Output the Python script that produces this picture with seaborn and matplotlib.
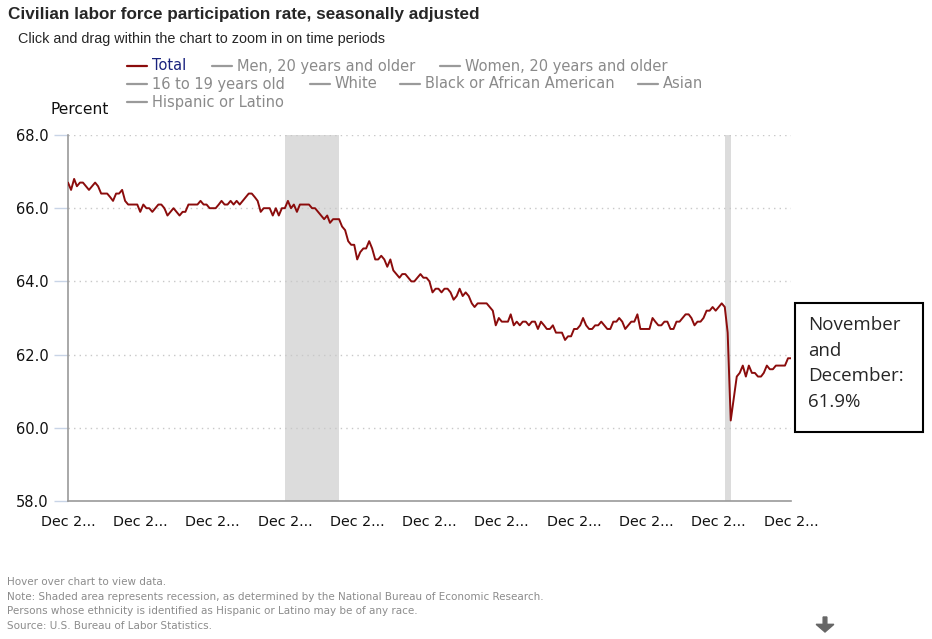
import numpy as np
import pandas as pd
import matplotlib
matplotlib.use("Agg")
import matplotlib.pyplot as plt
import seaborn as sns
from matplotlib.lines import Line2D
from matplotlib.patches import Rectangle, FancyArrow

# ── data: civilian labor force participation rate (%), monthly ─────────────
start_month = "2001-12-01"
rate_2001_dec = [66.7]
rate_2002 = [66.5, 66.8, 66.6, 66.7, 66.7, 66.6, 66.5, 66.6, 66.7, 66.6, 66.4, 66.4]
rate_2003 = [66.4, 66.3, 66.2, 66.4, 66.4, 66.5, 66.2, 66.1, 66.1, 66.1, 66.1, 65.9]
rate_2004 = [66.1, 66.0, 66.0, 65.9, 66.0, 66.1, 66.1, 66.0, 65.8, 65.9, 66.0, 65.9]
rate_2005 = [65.8, 65.9, 65.9, 66.1, 66.1, 66.1, 66.1, 66.2, 66.1, 66.1, 66.0, 66.0]
rate_2006 = [66.0, 66.1, 66.2, 66.1, 66.1, 66.2, 66.1, 66.2, 66.1, 66.2, 66.3, 66.4]
rate_2007 = [66.4, 66.3, 66.2, 65.9, 66.0, 66.0, 66.0, 65.8, 66.0, 65.8, 66.0, 66.0]
rate_2008 = [66.2, 66.0, 66.1, 65.9, 66.1, 66.1, 66.1, 66.1, 66.0, 66.0, 65.9, 65.8]
rate_2009 = [65.7, 65.8, 65.6, 65.7, 65.7, 65.7, 65.5, 65.4, 65.1, 65.0, 65.0, 64.6]
rate_2010 = [64.8, 64.9, 64.9, 65.1, 64.9, 64.6, 64.6, 64.7, 64.6, 64.4, 64.6, 64.3]
rate_2011 = [64.2, 64.1, 64.2, 64.2, 64.1, 64.0, 64.0, 64.1, 64.2, 64.1, 64.1, 64.0]
rate_2012 = [63.7, 63.8, 63.8, 63.7, 63.8, 63.8, 63.7, 63.5, 63.6, 63.8, 63.6, 63.7]
rate_2013 = [63.6, 63.4, 63.3, 63.4, 63.4, 63.4, 63.4, 63.3, 63.2, 62.8, 63.0, 62.9]
rate_2014 = [62.9, 62.9, 63.1, 62.8, 62.9, 62.8, 62.9, 62.9, 62.8, 62.9, 62.9, 62.7]
rate_2015 = [62.9, 62.8, 62.7, 62.7, 62.8, 62.6, 62.6, 62.6, 62.4, 62.5, 62.5, 62.7]
rate_2016 = [62.7, 62.8, 63.0, 62.8, 62.7, 62.7, 62.8, 62.8, 62.9, 62.8, 62.7, 62.7]
rate_2017 = [62.9, 62.9, 63.0, 62.9, 62.7, 62.8, 62.9, 62.9, 63.1, 62.7, 62.7, 62.7]
rate_2018 = [62.7, 63.0, 62.9, 62.8, 62.8, 62.9, 62.9, 62.7, 62.7, 62.9, 62.9, 63.0]
rate_2019 = [63.1, 63.1, 63.0, 62.8, 62.9, 62.9, 63.0, 63.2, 63.2, 63.3, 63.2, 63.3]
rate_2020 = [63.4, 63.3, 62.6, 60.2, 60.8, 61.4, 61.5, 61.7, 61.4, 61.7, 61.5, 61.5]
rate_2021 = [61.4, 61.4, 61.5, 61.7, 61.6, 61.6, 61.7, 61.7, 61.7, 61.7, 61.9, 61.9]

recessions = [("2007-12-01", "2009-06-01"), ("2020-02-01", "2020-04-01")]
x_ticks = ["2001-12-01", "2003-12-01", "2005-12-01", "2007-12-01", "2009-12-01",
           "2011-12-01", "2013-12-01", "2015-12-01", "2017-12-01", "2019-12-01",
           "2021-12-01"]
x_tick_label = "Dec 2..."
y_ticks = [58, 60, 62, 64, 66, 68]

legend_row1 = ["Total", "Men, 20 years and older", "Women, 20 years and older"]
legend_row2 = ["16 to 19 years old", "White", "Black or African American", "Asian"]
legend_row3 = ["Hispanic or Latino"]

footnotes = [
    "Hover over chart to view data.",
    "Note: Shaded area represents recession, as determined by the National Bureau of Economic Research.",
    "Persons whose ethnicity is identified as Hispanic or Latino may be of any race.",
    "Source: U.S. Bureau of Labor Statistics.",
]

values = (rate_2001_dec + rate_2002 + rate_2003 + rate_2004 + rate_2005 + rate_2006
          + rate_2007 + rate_2008 + rate_2009 + rate_2010 + rate_2011 + rate_2012
          + rate_2013 + rate_2014 + rate_2015 + rate_2016 + rate_2017 + rate_2018
          + rate_2019 + rate_2020 + rate_2021)
df = pd.DataFrame({
    "month": pd.date_range(start_month, periods=len(values), freq="MS"),
    "rate": values,
})

LINE_RED = "#8b0c0c"
GREY_TXT = "#8a8a8a"
W, H = 932, 639

sns.set_style("white")
plt.rcParams["font.family"] = ["DejaVu Sans"]

fig = plt.figure(figsize=(W / 100, H / 100), dpi=100)
ax = fig.add_axes([68 / W, 1 - 501 / H, (791 - 68) / W, (501 - 135) / H])


def fx(px):
    return px / W


def fy(py):
    return 1 - py / H


# recession shading
for a, b in recessions:
    ax.axvspan(pd.Timestamp(a), pd.Timestamp(b), color="#dcdcdc", lw=0, zorder=0)

sns.lineplot(data=df, x="month", y="rate", color=LINE_RED, lw=1.4, ax=ax, zorder=3)

ax.set_xlim(pd.Timestamp(start_month), df["month"].iloc[-1])
ax.set_ylim(58, 68)
ax.set_yticks(y_ticks)
ax.set_yticklabels([f"{v:.1f}" for v in y_ticks], fontsize=10.5, color="#111111")
ax.set_xticks([pd.Timestamp(t) for t in x_ticks])
ax.set_xticklabels([x_tick_label] * len(x_ticks), fontsize=10.3, color="#111111")
ax.tick_params(axis="y", length=10, width=1, color="#c8d4e6", pad=4, left=True)
ax.tick_params(axis="x", length=0, pad=10)
ax.set_xlabel("")
ax.set_ylabel("")
ax.grid(False)
for yv in y_ticks[1:]:
    ax.axhline(yv, color="#c8c8c8", lw=1, ls=(0, (1, 3)), zorder=1)

for side in ["top", "right"]:
    ax.spines[side].set_visible(False)
ax.spines["left"].set_color("#9a9a9a")
ax.spines["bottom"].set_color("#9a9a9a")
ax.spines["left"].set_linewidth(1.2)
ax.spines["bottom"].set_linewidth(1.2)

# title, subtitle, axis unit
fig.text(fx(8), fy(15), "Civilian labor force participation rate, seasonally adjusted",
         fontsize=12.3, fontweight="bold", family="Liberation Sans", va="center")
fig.text(fx(18), fy(39), "Click and drag within the chart to zoom in on time periods",
         fontsize=10.4, family="Liberation Sans", va="center")
fig.text(fx(51), fy(110), "Percent", fontsize=11.2, va="center", color="#111111")

# legend drawn as flowing rows
legend_pos = [
    (legend_row1, [127, 212, 440], 66),
    (legend_row2, [127, 310, 400, 638], 84),
    (legend_row3, [127], 102),
]
for labels, xs, yy in legend_pos:
    for lab, x0 in zip(labels, xs):
        is_total = lab == "Total"
        fig.add_artist(Line2D([fx(x0), fx(x0 + 20)], [fy(yy), fy(yy)],
                              color=LINE_RED if is_total else "#9a9a9a", lw=1.6))
        fig.text(fx(x0 + 25), fy(yy), lab, fontsize=10.5, va="center",
                 color="#1a237e" if is_total else GREY_TXT)

# callout box
fig.add_artist(Rectangle((fx(795), fy(432)), fx(923 - 795), fy(303) - fy(432),
                         fill=False, ec="black", lw=1.5))
fig.text(fx(808), fy(316), "November\nand\nDecember:\n61.9%", fontsize=13.5,
         family="Open Sans", va="top", ha="left", linespacing=1.55)

# footnotes
for i, note in enumerate(footnotes):
    fig.text(fx(7), fy(582 + i * 14.7), note, fontsize=7.45, color="#8c8c8c", va="center")

# download arrow
fig.add_artist(FancyArrow(
    fx(825), fy(617), 0, fy(632) - fy(617), width=0.004, head_width=0.019,
    head_length=0.012, length_includes_head=True, color="#666666"))

fig.savefig("out.png", dpi=100)
